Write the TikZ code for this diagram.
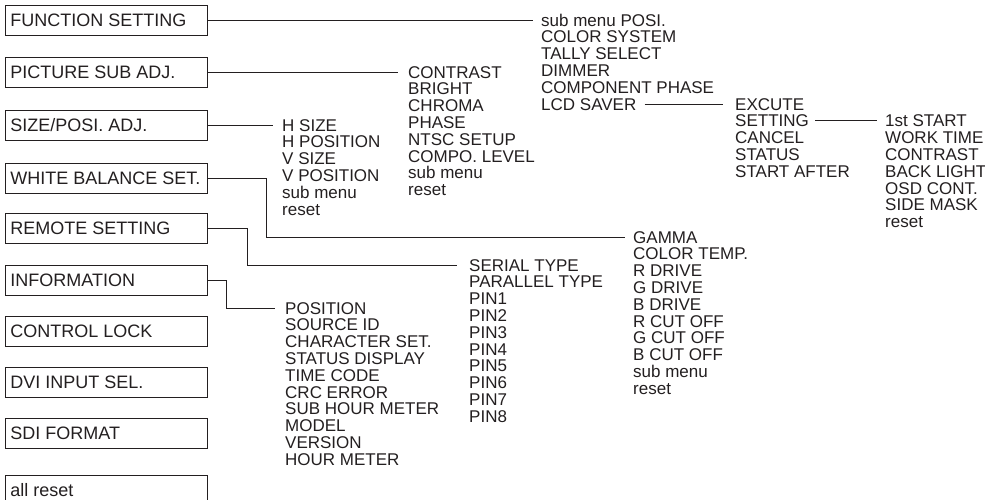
\documentclass[tikz,border=0pt]{standalone}
\usepackage{fontspec}
\setmainfont{Liberation Sans}
\definecolor{ink}{RGB}{35,31,32}
\newcommand{\bxt}[1]{\makebox[192pt][l]{#1}}
\begin{document}
\begin{tikzpicture}[x=1pt,y=-1pt,
  mbox/.style={draw=ink, line width=0.9pt, text=ink, anchor=west, inner xsep=5pt, inner ysep=0pt,
    minimum height=30pt, text height=13pt, text depth=0pt, font=\fontsize{18}{18}\selectfont},
  item/.style={text=ink, anchor=west, inner sep=0pt, text height=12.2pt, text depth=0pt,
    font=\fontsize{17}{17}\selectfont},
  conn/.style={draw=ink, line width=0.9pt}]
\useasboundingbox (0,0) rectangle (985,500);
\clip (0,0) rectangle (985,500);

% main menu boxes
\node[mbox] (fset) at (5,20)  {\bxt{FUNCTION SETTING}};
\node[mbox] (psub) at (5,72)  {\bxt{PICTURE SUB ADJ.}};
\node[mbox] (size) at (5,125) {\bxt{SIZE/POSI. ADJ.}};
\node[mbox] (wbal) at (5,178) {\bxt{WHITE BALANCE SET.}};
\node[mbox] (rset) at (5,228) {\bxt{REMOTE SETTING}};
\node[mbox] (info) at (5,280) {\bxt{INFORMATION}};
\node[mbox] (clck) at (5,331) {\bxt{CONTROL LOCK}};
\node[mbox] (dvi)  at (5,382) {\bxt{DVI INPUT SEL.}};
\node[mbox] (sdi)  at (5,433) {\bxt{SDI FORMAT}};
\node[mbox] (arst) at (5,490) {\bxt{all reset}};

% sub lists
\foreach \t [count=\i] in {sub menu POSI., COLOR SYSTEM, TALLY SELECT, DIMMER, COMPONENT PHASE, LCD SAVER}
  \node[item] (fs\i) at (541,{20+(\i-1)*16.8}) {\t};
\foreach \t [count=\i] in {EXCUTE, SETTING, CANCEL, STATUS, START AFTER}
  \node[item] (lc\i) at (735,{104+(\i-1)*16.8}) {\t};
\foreach \t [count=\i] in {1st START, WORK TIME, CONTRAST, BACK LIGHT, OSD CONT., SIDE MASK, reset}
  \node[item] (st\i) at (885,{120.8+(\i-1)*16.8}) {\t};
\foreach \t [count=\i] in {CONTRAST, BRIGHT, CHROMA, PHASE, NTSC SETUP, COMPO. LEVEL, sub menu, reset}
  \node[item] (ps\i) at (408,{72+(\i-1)*16.8}) {\t};
\foreach \t [count=\i] in {H SIZE, H POSITION, V SIZE, V POSITION, sub menu, reset}
  \node[item] (sz\i) at (282,{125+(\i-1)*16.8}) {\t};
\foreach \t [count=\i] in {GAMMA, COLOR TEMP., R DRIVE, G DRIVE, B DRIVE, R CUT OFF, G CUT OFF, B CUT OFF, sub menu, reset}
  \node[item] (wb\i) at (633,{237+(\i-1)*16.8}) {\t};
\foreach \t [count=\i] in {SERIAL TYPE, PARALLEL TYPE, PIN1, PIN2, PIN3, PIN4, PIN5, PIN6, PIN7, PIN8}
  \node[item] (rs\i) at (469,{265+(\i-1)*16.8}) {\t};
\foreach \t [count=\i] in {POSITION, SOURCE ID, CHARACTER SET., STATUS DISPLAY, TIME CODE, CRC ERROR, SUB HOUR METER, MODEL, VERSION, HOUR METER}
  \node[item] (in\i) at (285,{308+(\i-1)*16.8}) {\t};

% connectors
\draw[conn] (fset.east) -- ([xshift=-8pt]fs1.west);
\draw[conn] (psub.east) -- ([xshift=-10pt]ps1.west);
\draw[conn] (size.east) -- ([xshift=-9pt]sz1.west);
\draw[conn] ([xshift=8pt]fs6.east) -- ([xshift=-12pt]lc1.west);
\draw[conn] ([xshift=6pt]lc2.east) -- ([xshift=-8pt]st1.west);
\draw[conn] (wbal.east) -- ++(59,0) |- ([xshift=-8pt]wb1.west);
\draw[conn] (rset.east) -- ++(40,0) |- ([xshift=-12pt]rs1.west);
\draw[conn] (info.east) -- ++(19,0) |- ([xshift=-10pt]in1.west);
\end{tikzpicture}
\end{document}
